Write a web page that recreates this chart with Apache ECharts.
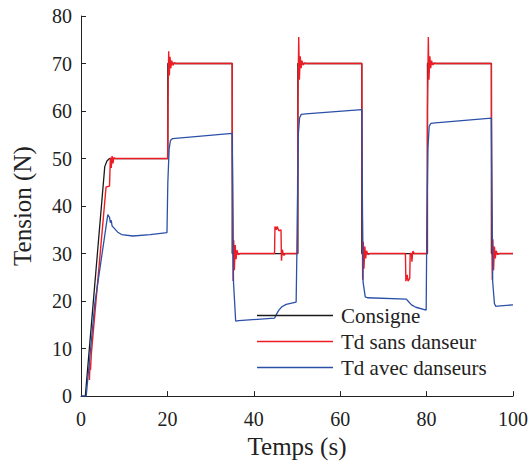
<!DOCTYPE html>
<html>
<head>
<meta charset="utf-8">
<script src="https://cdn.jsdelivr.net/npm/echarts@6/dist/echarts.min.js"></script>
<style>
html,body{margin:0;padding:0;background:#fff;}
#chart{width:531px;height:464px;}
</style>
</head>
<body>
<div id="chart"></div>
<script>
// ---- Data ----
const seriesNames = ['Consigne', 'Td sans danseur', 'Td avec danseurs'];
const xTicks = [0, 20, 40, 60, 80, 100];
const yTicks = [0, 10, 20, 30, 40, 50, 60, 70, 80];

const consigneT = [0, 1, 5.5, 6, 6.6, 20.1, 20.1, 35, 35, 50.2, 50.2, 65, 65, 80.2, 80.2, 95, 95, 100];
const consigneV = [0, 0, 48.3, 49.5, 50, 50, 70, 70, 30, 30, 70, 70, 30, 30, 70, 70, 30, 30];

const sansT = [1.95, 2.1, 2.2, 2.4, 5.8, 6.6, 6.8, 7.0, 7.2, 7.4, 7.6, 8, 20.05, 20.15, 20.3, 20.45, 20.6, 20.8, 21.0, 21.3, 21.6, 22,
  35, 35.05, 35.2, 35.35, 35.5, 35.7, 35.9, 36.1, 36.4, 36.8, 44.8, 44.9, 45.2, 45.4, 45.8, 46.3, 46.4, 46.6, 46.9, 47.3, 50.1,
  50.2, 50.4, 50.55, 50.75, 50.95, 51.15, 51.4, 51.8, 52.2, 65, 65.05, 65.2, 65.35, 65.5, 65.7, 65.9, 66.1, 66.4, 66.8,
  75.1, 75.2, 75.5, 75.7, 76.1, 76.2, 76.5, 76.6, 76.8, 77.2, 80.1,
  80.2, 80.4, 80.55, 80.75, 80.95, 81.15, 81.4, 81.8, 82.2, 95, 95.05, 95.2, 95.35, 95.5, 95.7, 95.9, 96.1, 96.4, 96.8, 100];
const sansV = [3.4, 7, 5.5, 9, 44, 44.2, 50.2, 48, 50.5, 49, 50.2, 50, 50, 62, 72.6, 67.5, 71.4, 69, 70.6, 69.6, 70.2, 70,
  70, 50, 24.2, 32.8, 26.5, 31.8, 28.8, 30.7, 29.8, 30, 30, 35.7, 35.0, 35.7, 34.8, 35, 28.5, 30.8, 29.6, 30, 30,
  60, 75.6, 66.6, 71.5, 69, 70.6, 69.7, 70.1, 70, 70, 50, 24.5, 32.5, 26.8, 31.5, 29, 30.6, 29.8, 30,
  30, 24.2, 25.5, 24.2, 24.8, 30, 30, 28.3, 30.5, 30, 30,
  60, 75.6, 66.6, 71.5, 69, 70.6, 69.7, 70.1, 70, 70, 50, 24.5, 33, 26.5, 31.5, 29, 30.6, 29.8, 30, 30];

const avecT = [0, 1.2, 3.2, 6.2, 6.6, 6.8, 7.0, 7.2, 7.5, 8.5, 9.4, 12, 16, 19.9, 20.1, 20.4, 20.7, 21.2, 35,
  35.15, 35.3, 35.8, 36.5, 44.8, 45.3, 45.8, 46.5, 47.5, 49.8, 50.05, 50.3, 50.6, 51, 52, 65,
  65.15, 65.3, 65.8, 66.3, 75.3, 75.8, 76.5, 77.5, 79.9, 80.05, 80.3, 80.6, 81, 82, 95,
  95.15, 95.3, 95.7, 96, 97, 100];
const avecV = [0, 0, 19.5, 38.2, 37.6, 36.5, 37, 35.8, 35.5, 34.5, 34.0, 33.7, 34, 34.4, 45, 52, 53.8, 54.2, 55.3,
  40, 24, 15.8, 15.9, 16.4, 17.3, 18.1, 18.8, 19.3, 19.8, 35, 55, 58.6, 59.3, 59.4, 60.3,
  40, 24, 20.9, 20.7, 20.4, 19.9, 19.2, 18.7, 18.1, 35, 52, 56.8, 57.4, 57.5, 58.5,
  40, 24, 19.5, 18.9, 19, 19.2];

const colors = ['#1a1a1a', '#ee1c24', '#2b50a8'];

function pairs(t, v) { return t.map((x, i) => [x, v[i]]); }

const font = 'serif';
const textColor = '#222';

const chart = echarts.init(document.getElementById('chart'), null, {renderer: 'svg'});
chart.setOption({
  animation: false,
  backgroundColor: '#fff',
  textStyle: {fontFamily: font},
  grid: {left: 81, right: 17, top: 16, bottom: 67, containLabel: false},
  xAxis: {
    type: 'value', min: xTicks[0], max: xTicks[xTicks.length - 1], interval: 20,
    name: 'Temps (s)', nameLocation: 'middle', nameGap: 34,
    nameTextStyle: {fontFamily: font, fontSize: 25, color: textColor},
    axisLine: {show: true, lineStyle: {color: '#222', width: 1}},
    axisTick: {show: true, inside: true, length: 5, lineStyle: {color: '#222'}},
    axisLabel: {fontFamily: font, fontSize: 20, color: textColor, margin: 13},
    splitLine: {show: false}
  },
  yAxis: {
    type: 'value', min: yTicks[0], max: yTicks[yTicks.length - 1], interval: 10,
    name: 'Tension (N)', nameLocation: 'middle', nameGap: 46,
    nameTextStyle: {fontFamily: font, fontSize: 25, color: textColor},
    axisLine: {show: true, lineStyle: {color: '#222', width: 1}},
    axisTick: {show: true, inside: true, length: 5, lineStyle: {color: '#222'}},
    axisLabel: {fontFamily: font, fontSize: 20, color: textColor, margin: 9},
    splitLine: {show: false}
  },
  legend: {
    orient: 'vertical', left: 257, top: 305, padding: 0, itemGap: 5,
    icon: 'rect', itemWidth: 76, itemHeight: 1.5,
    textStyle: {fontFamily: font, fontSize: 21, color: textColor, lineHeight: 21, padding: [0, 0, 0, 3]},
    data: seriesNames
  },
  series: [
    {name: seriesNames[0], type: 'line', data: pairs(consigneT, consigneV), symbol: 'none', color: colors[0], lineStyle: {width: 1.3, color: colors[0]}},
    {name: seriesNames[1], type: 'line', data: pairs(sansT, sansV), symbol: 'none', color: colors[1], lineStyle: {width: 1.4, color: colors[1]}},
    {name: seriesNames[2], type: 'line', data: pairs(avecT, avecV), symbol: 'none', color: colors[2], lineStyle: {width: 1.3, color: colors[2]}}
  ]
});
</script>
</body>
</html>
